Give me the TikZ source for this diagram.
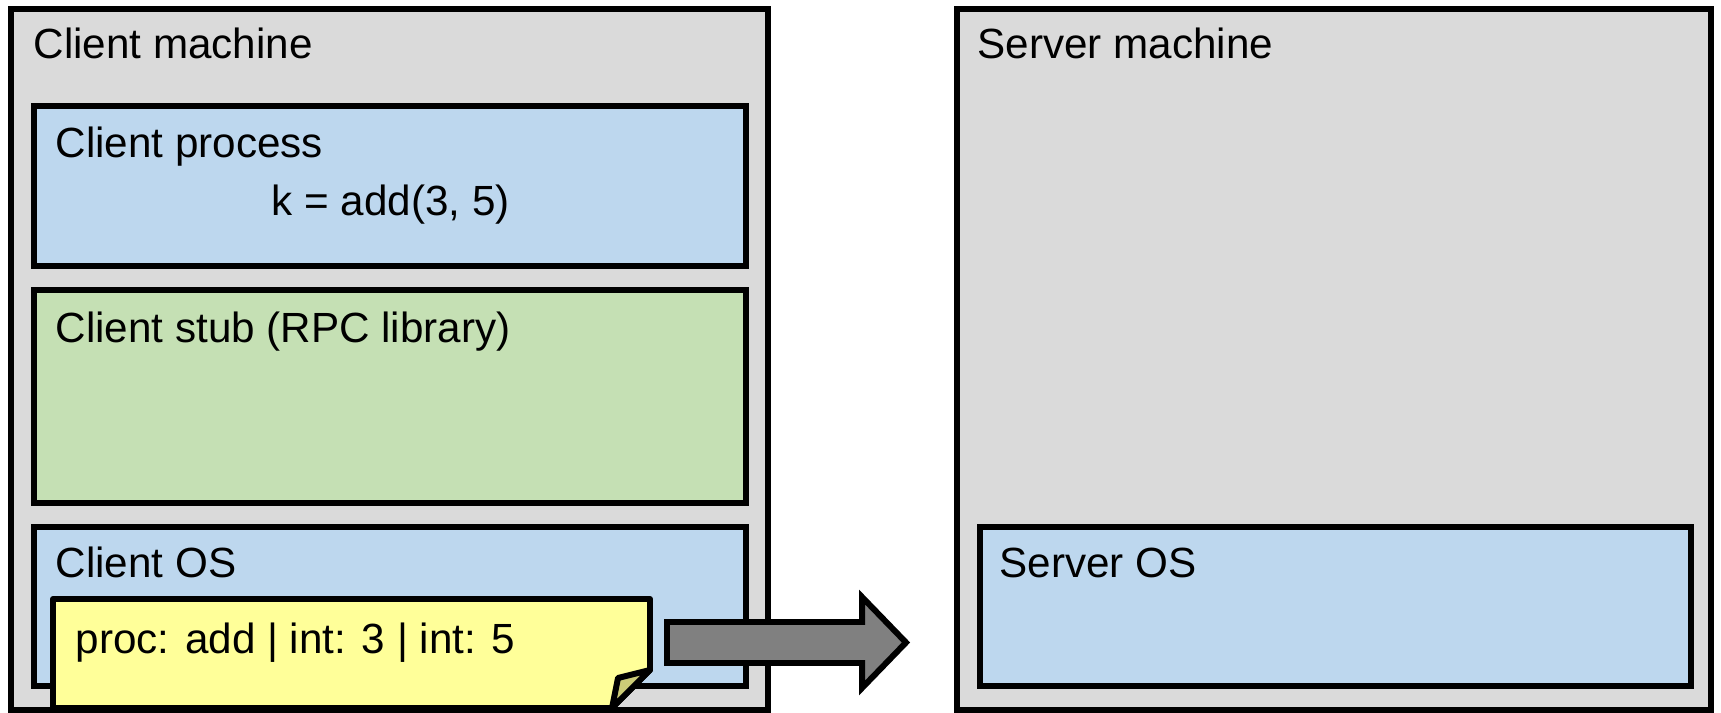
\documentclass[tikz,border=0pt]{standalone}
\usepackage{fontspec}
\setmainfont{Liberation Sans}
\definecolor{machinegray}{HTML}{DADADA}
\definecolor{layerblue}{HTML}{BDD7EE}
\definecolor{stubgreen}{HTML}{C5E0B4}
\definecolor{noteyellow}{HTML}{FFFF99}
\definecolor{foldyellow}{HTML}{CCCC77}
\definecolor{arrowgray}{HTML}{808080}
\begin{document}
\begin{tikzpicture}[x = 0.01cm, y = -0.01cm, line join = miter,
    box/.style = {draw, line width = 1.7pt},
    lbl/.style = {anchor = base west, inner sep = 0pt, font = \fontsize{12}{14}\selectfont}]
  \useasboundingbox (0, 0) rectangle (1721, 713);
  \draw[box, fill = machinegray] (11, 9) rectangle (768, 710);
  \draw[box, fill = machinegray] (957, 9) rectangle (1711, 710);
  \draw[box, fill = layerblue] (34, 106) rectangle (746, 266);
  \draw[box, fill = stubgreen] (34, 290) rectangle (746, 503);
  \draw[box, fill = layerblue] (34, 527) rectangle (746, 686);
  \draw[box, fill = layerblue] (980, 527) rectangle (1691, 686);
  % message with folded corner, then the send arrow
  \draw[box, fill = noteyellow, line join = round] (53, 599) -- (650, 599) -- (650, 670) -- (612, 708) -- (53, 708) -- cycle;
  \draw[box, fill = foldyellow, line join = round] (650, 670) -- (618, 678) -- (612, 708) -- cycle;
  \draw[box, fill = arrowgray] (667, 622) -- (862, 622) -- (862, 597) -- (906, 642.5) -- (862, 688) -- (862, 663) -- (667, 663) -- cycle;
  \node[lbl] (clientmach) at (33, 59) {Client machine};
  \node[lbl] (clientproc) at (55, 158) {Client process};
  \node[lbl] (call) at (271, 216) {k = add(3, 5)};
  \node[lbl] (clientstub) at (55, 343) {Client stub (RPC library)};
  \node[lbl] (clientos) at (55, 578) {Client OS};
  \node[lbl] (msg) at (75, 654) {proc: add | int: 3 | int: 5};
  \node[lbl] (servermach) at (977, 59) {Server machine};
  \node[lbl] (serveros) at (999, 578) {Server OS};
\end{tikzpicture}
\end{document}
